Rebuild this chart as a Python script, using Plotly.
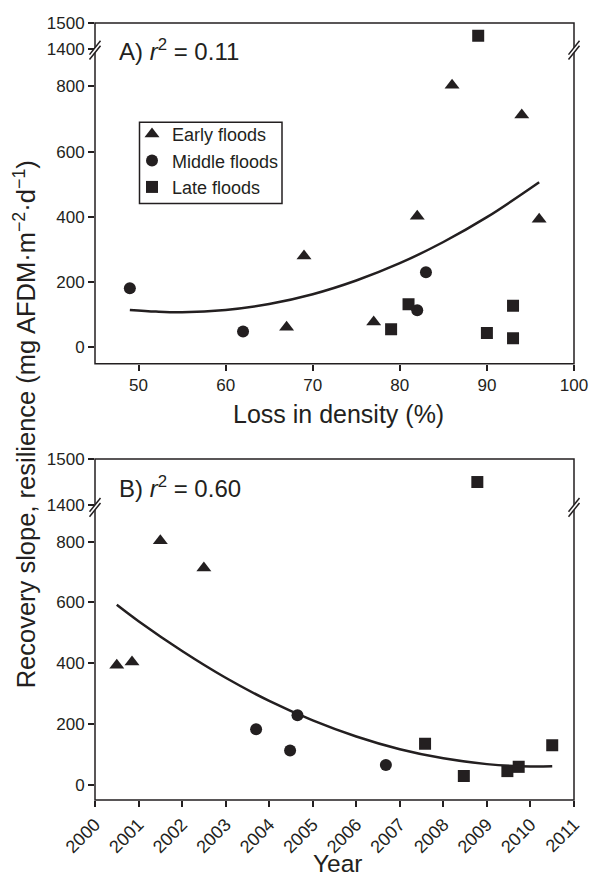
import plotly.graph_objects as go

# ---------------- Data ----------------
# Panel A: loss in density (%) vs recovery slope
early_loss = [67, 69, 77, 82, 86, 94, 96]
early_res_a = [62, 280, 78, 402, 803, 712, 393]
middle_loss = [49, 62, 82, 83]
middle_res_a = [181, 49, 114, 230]
late_loss = [79, 81, 89, 90, 93, 93]
late_res_a = [56, 132, 1450, 44, 128, 28]

fit_a_x = [49, 52, 55, 60, 65, 70, 75, 80, 85, 90, 96]
fit_a_y = [115, 110, 108, 115, 133, 163, 205, 258, 323, 399, 506]

# Panel B: year vs recovery slope
early_year = [2000.5, 2000.85, 2001.5, 2002.5]
early_res_b = [393, 404, 803, 713]
middle_year = [2003.7, 2004.48, 2004.65, 2006.68]
middle_res_b = [183, 113, 229, 65]
late_year = [2007.58, 2008.47, 2008.78, 2009.47, 2009.73, 2010.5]
late_res_b = [135, 29, 1450, 45, 59, 130]

fit_b_x = [2000.5, 2001, 2002, 2003, 2004, 2005, 2006, 2007, 2008, 2009, 2010, 2010.5]
fit_b_y = [592, 538, 440, 352, 276, 212, 159, 117, 87, 68, 60, 61]

series_names = ["Early floods", "Middle floods", "Late floods"]
symbols = ["triangle-up", "circle", "square"]
sizes = [13, 12, 12]

loss_ticks = [50, 60, 70, 80, 90, 100]
year_ticks = list(range(2000, 2012))
low_ticks = [0, 200, 400, 600, 800]
high_ticks = [1400, 1500]

INK = "#231f20"
FONT = "Liberation Sans, Arial, sans-serif"

# ---------------- Geometry helpers (page pixel -> paper) ----------------
OFF = 8  # default body margin of the page
W, H = 597 - OFF, 879 - OFF
ML, MT = 95 - OFF, 14 - OFF
MR, MB = 597 - 574, 879 - 800
PW, PH = 574 - 95, 800 - 14


def pxx(px):
    return (px - 95) / PW


def pyy(py):
    return (800 - py) / PH


fig = go.Figure()

panel_a = [(early_loss, early_res_a), (middle_loss, middle_res_a), (late_loss, late_res_a)]
panel_b = [(early_year, early_res_b), (middle_year, middle_res_b), (late_year, late_res_b)]


def split(xs, ys, lo):
    if lo:
        pts = [(a, b) for a, b in zip(xs, ys) if b < 1000]
    else:
        pts = [(a, b) for a, b in zip(xs, ys) if b >= 1000]
    return [p[0] for p in pts], [p[1] for p in pts]


for i, (xs, ys) in enumerate(panel_a):
    for lo, ya in ((True, "y"), (False, "y2")):
        sx, sy = split(xs, ys, lo)
        fig.add_trace(go.Scatter(
            x=sx, y=sy, mode="markers", xaxis="x", yaxis=ya,
            name=series_names[i], showlegend=lo, legendgroup=series_names[i],
            marker=dict(symbol=symbols[i], size=sizes[i], color=INK, line=dict(width=0)),
        ))

for i, (xs, ys) in enumerate(panel_b):
    for lo, ya in ((True, "y3"), (False, "y4")):
        sx, sy = split(xs, ys, lo)
        fig.add_trace(go.Scatter(
            x=sx, y=sy, mode="markers", xaxis="x2", yaxis=ya,
            name=series_names[i], showlegend=False, legendgroup=series_names[i],
            marker=dict(symbol=symbols[i], size=sizes[i], color=INK, line=dict(width=0)),
        ))

fig.add_trace(go.Scatter(x=fit_a_x, y=fit_a_y, mode="lines", xaxis="x", yaxis="y",
                         line=dict(color=INK, width=2.5, shape="spline"), showlegend=False))
fig.add_trace(go.Scatter(x=fit_b_x, y=fit_b_y, mode="lines", xaxis="x2", yaxis="y3",
                         line=dict(color=INK, width=2.5, shape="spline"), showlegend=False))

axis_common = dict(showgrid=False, zeroline=False, showline=False, ticks="outside",
                   ticklen=6, tickwidth=1.5, tickcolor=INK)
tf17 = dict(family=FONT, size=17, color=INK)
tf18 = dict(family=FONT, size=18, color=INK)

# panel extents (page pixels)
A_top, A_break, A_bot = 14, 41.5, 358.7
B_top, B_break, B_bot = 455, 504, 800

fig.update_layout(
    width=W, height=H,
    margin=dict(l=ML, r=MR, t=MT, b=MB),
    paper_bgcolor="white", plot_bgcolor="white",
    font=dict(family=FONT, color=INK),
    xaxis=dict(domain=[0, 1], range=[45, 100], anchor="y", tickvals=loss_ticks, tickfont=tf17, **axis_common),
    yaxis=dict(domain=[pyy(A_bot), pyy(44)], range=[-50, 903], anchor="x", tickvals=low_ticks, tickfont=tf17, **axis_common),
    yaxis2=dict(domain=[pyy(40), pyy(A_top)], range=[1400, 1500], anchor="x", tickvals=high_ticks, tickfont=tf17, **axis_common),
    xaxis2=dict(domain=[0, 1], range=[2000, 2011], anchor="y3", tickvals=year_ticks, tickangle=-45, tickfont=tf18, **axis_common),
    yaxis3=dict(domain=[pyy(B_bot), pyy(506)], range=[-50, 906], anchor="x2", tickvals=low_ticks, tickfont=tf17, **axis_common),
    yaxis4=dict(domain=[pyy(501.7), pyy(B_top)], range=[1400, 1500], anchor="x2", tickvals=high_ticks, tickfont=tf17, **axis_common),
    legend=dict(x=pxx(132), y=pyy(108), xanchor="left", yanchor="top",
                borderwidth=0, bgcolor="rgba(0,0,0,0)",
                font=dict(family=FONT, size=18, color=INK), tracegroupgap=0),
)

shapes = []
for top, bot in ((A_top, A_bot), (B_top, B_bot)):
    shapes.append(dict(type="rect", xref="paper", yref="paper", x0=0, x1=1, y0=pyy(bot), y1=pyy(top),
                       line=dict(color=INK, width=1.5), fillcolor="rgba(0,0,0,0)", layer="above"))

# legend box
shapes.append(dict(type="rect", xref="paper", yref="paper", x0=pxx(139.5), x1=pxx(282), y0=pyy(196.5), y1=pyy(114.5),
                   line=dict(color=INK, width=1.5), fillcolor="rgba(0,0,0,0)", layer="below"))


def brk(cx, cy):
    out = []
    hw, hh = 5.5, 7
    o1, o2 = -2.5, 2.5
    poly = [(cx - hw, cy + o1 + hh), (cx + hw, cy + o1 - hh), (cx + hw, cy + o2 - hh), (cx - hw, cy + o2 + hh)]
    path = "M " + " L ".join(f"{pxx(a)},{pyy(b)}" for a, b in poly) + " Z"
    out.append(dict(type="path", xref="paper", yref="paper", path=path, fillcolor="white",
                    line=dict(width=0), layer="above"))
    for o in (o1, o2):
        out.append(dict(type="line", xref="paper", yref="paper",
                        x0=pxx(cx - hw), y0=pyy(cy + o + hh), x1=pxx(cx + hw), y1=pyy(cy + o - hh),
                        line=dict(color=INK, width=1.5), layer="above"))
    return out


for cy in (A_break, B_break):
    shapes += brk(95, cy)
    shapes += brk(574, cy)

fig.update_layout(shapes=shapes)

annotations = [
    dict(text="A) <i>r</i><sup>2</sup> = 0.11", x=pxx(117), y=pyy(41.5), xanchor="left", yanchor="middle",
         font=dict(size=24, family=FONT, color=INK)),
    dict(text="B) <i>r</i><sup>2</sup> = 0.60", x=pxx(117), y=pyy(483.5), xanchor="left", yanchor="middle",
         font=dict(size=24, family=FONT, color=INK)),
    dict(text="Loss in density (%)", x=pxx(338), y=pyy(410), xanchor="center", yanchor="middle",
         font=dict(size=25, family=FONT, color=INK)),
    dict(text="Year", x=pxx(338), y=pyy(864), xanchor="center", yanchor="middle",
         font=dict(size=24.5, family=FONT, color=INK)),
    dict(text="Recovery slope, resilience (mg AFDM·m<sup>−2</sup>·d<sup>−1</sup>)", x=pxx(25), y=pyy(420),
         xanchor="center", yanchor="middle", textangle=-90,
         font=dict(size=25.5, family=FONT, color=INK)),
]
for a in annotations:
    a.update(xref="paper", yref="paper", showarrow=False)
fig.update_layout(annotations=annotations)

fig.write_html("out.html")
